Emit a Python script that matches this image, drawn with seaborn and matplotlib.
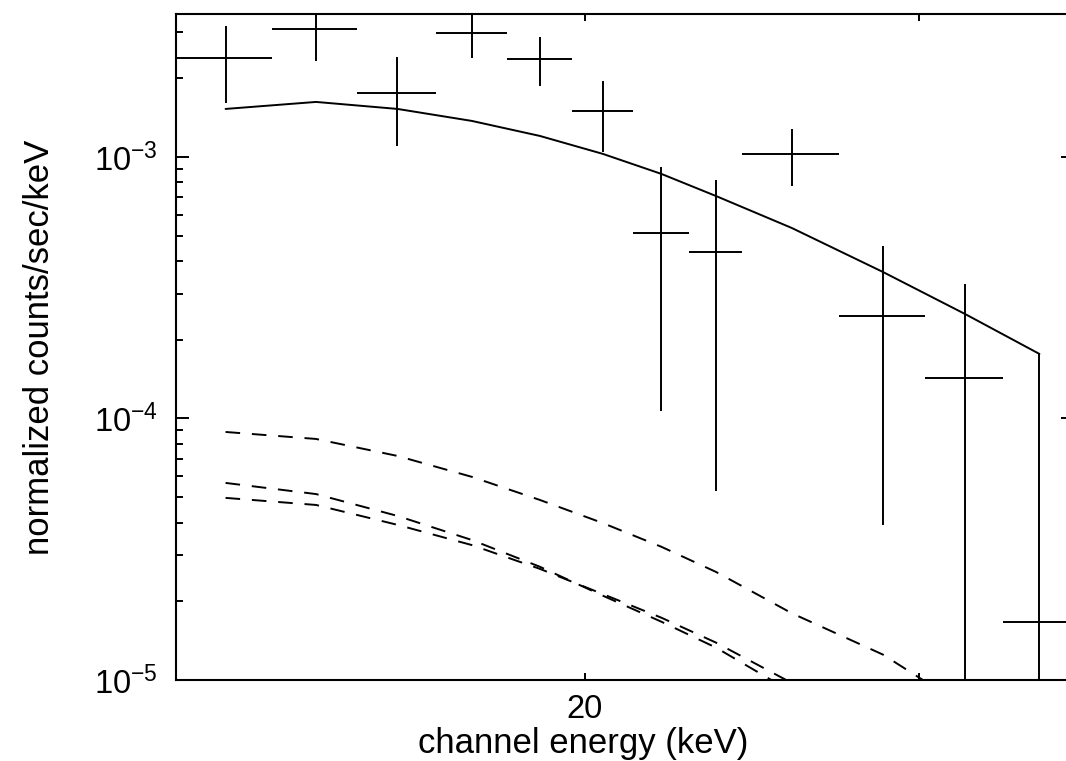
import numpy as np
import pandas as pd
import matplotlib
matplotlib.use("Agg")
import matplotlib.pyplot as plt
import seaborn as sns
from matplotlib.ticker import NullLocator, NullFormatter, LogLocator

# ---- data ----
bin_edges = [12.18, 13.69, 15.18, 16.69, 18.19, 19.69, 21.20, 22.70, 24.20, 27.22, 30.22, 33.22, 36.22]
counts = [2.39e-3, 3.09e-3, 1.757e-3, 2.98e-3, 2.37e-3, 1.50e-3, 5.12e-4, 4.33e-4, 1.027e-3, 2.47e-4, 1.43e-4, 1.67e-5]
count_err = [0.787e-3, 0.758e-3, 0.655e-3, 0.588e-3, 0.51e-3, 0.46e-3, 4.05e-4, 3.8e-4, 2.5e-4, 2.08e-4, 1.84e-4, 1.6e-4]
model_total = [1.526e-3, 1.623e-3, 1.526e-3, 1.373e-3, 1.203e-3, 1.027e-3, 8.61e-4, 7.09e-4, 5.35e-4, 3.63e-4, 2.51e-4, 1.765e-4]
comp_a = [8.88e-5, 8.35e-5, 7.19e-5, 5.98e-5, 4.88e-5, 3.98e-5, 3.23e-5, 2.59e-5, 1.80e-5, 1.25e-5, 7.9e-6, 4.94e-6]
comp_b = [5.67e-5, 5.14e-5, 4.24e-5, 3.43e-5, 2.71e-5, 2.10e-5, 1.67e-5, 1.33e-5, 9.0e-6, 5.64e-6, 3.48e-6, 2.14e-6]
comp_c = [4.97e-5, 4.67e-5, 3.92e-5, 3.28e-5, 2.66e-5, 2.13e-5, 1.73e-5, 1.39e-5, 9.74e-6, 6.16e-6, 3.86e-6, 2.44e-6]
x_tick_values = [20, 30]
x_tick_labels = ["20", ""]
x_label = "channel energy (keV)"
y_label = "normalized counts/sec/keV"

edges = np.array(bin_edges)
centers = (edges[:-1] + edges[1:]) / 2
x_lo = centers - edges[:-1]
x_hi = edges[1:] - centers

# ---- style ----
sns.set_style("ticks")
plt.rcParams["font.family"] = ["Liberation Sans", "DejaVu Sans"]
plt.rcParams["mathtext.fontset"] = "custom"
plt.rcParams["mathtext.rm"] = "Liberation Sans"
plt.rcParams["mathtext.it"] = "Liberation Sans:italic"
plt.rcParams["mathtext.bf"] = "Liberation Sans:bold"
plt.rcParams["lines.scale_dashes"] = False

W, H = 1066, 761
fig = plt.figure(figsize=(W / 100, H / 100), dpi=100)
ax_left, ax_right, ax_top, ax_bottom = 176, 1074.3, 14, 680
ax = fig.add_axes([ax_left / W, 1 - ax_bottom / H, (ax_right - ax_left) / W, (ax_bottom - ax_top) / H])

lw = 1.4
ax.set_xscale("log")
ax.set_yscale("log")

df = pd.DataFrame({"E": centers, "total": model_total, "a": comp_a, "b": comp_b, "c": comp_c})
dash = (0, (10.5, 8.5))
sns.lineplot(data=df, x="E", y="total", ax=ax, color="black", lw=lw, estimator=None, sort=False)
for comp in ["a", "b", "c"]:
    sns.lineplot(data=df, x="E", y=comp, ax=ax, color="black", lw=lw, linestyle=dash,
                 estimator=None, sort=False)

ax.errorbar(centers, counts, xerr=[x_lo, x_hi], yerr=count_err, fmt="none",
            ecolor="black", elinewidth=lw, capsize=0)

ax.set_xlim(bin_edges[0], bin_edges[-1])
ax.set_ylim(1e-5, 3.52e-3)

# ticks
ax.set_xticks(x_tick_values, labels=x_tick_labels)
ax.xaxis.set_minor_locator(NullLocator())
ax.yaxis.set_major_locator(LogLocator(base=10, numticks=10))
ax.yaxis.set_minor_locator(LogLocator(base=10, subs=np.arange(2, 10), numticks=20))
ax.yaxis.set_minor_formatter(NullFormatter())
ax.tick_params(which="both", direction="in", top=True, right=True, width=lw, color="black",
               labelsize=23.5, labelcolor="black")
ax.tick_params(axis="y", which="major", length=9.4, pad=13)
ax.tick_params(axis="y", which="minor", length=5)
ax.tick_params(axis="x", which="major", length=5, pad=10)

for s in ax.spines.values():
    s.set_linewidth(1.5)
    s.set_color("black")
    s.set_visible(True)

ax.set_xlabel(x_label, fontsize=25, color="black")
ax.set_ylabel(y_label, fontsize=25, color="black")
ax.xaxis.label.set_va("bottom")
ax.xaxis.set_label_coords((583 - ax_left) / (ax_right - ax_left), -(760.5 - ax_bottom) / (ax_bottom - ax_top))
ax.yaxis.set_label_coords((56 - ax_left) / (ax_right - ax_left), 0.5)

fig.savefig("out.png", dpi=100)
